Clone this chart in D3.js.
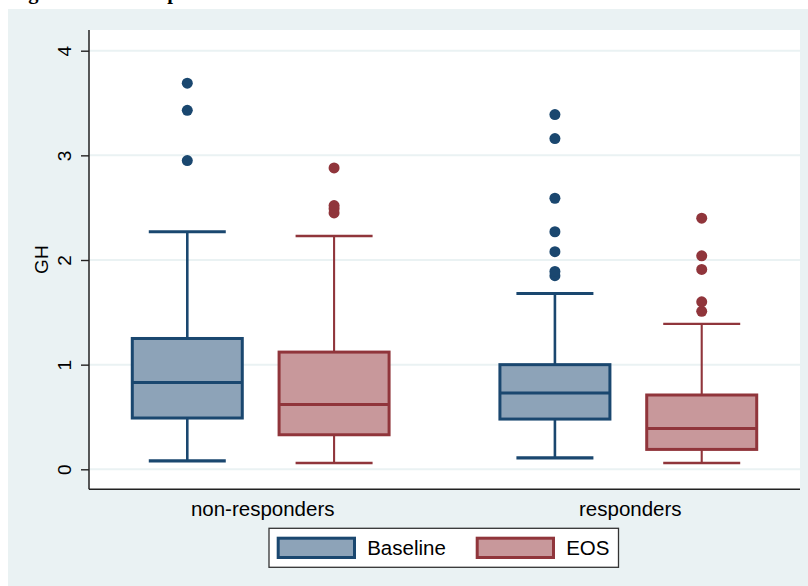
<!DOCTYPE html>
<html>
<head>
<meta charset="utf-8">
<script src="https://cdn.jsdelivr.net/npm/d3@7"></script>
<style>
  html, body { margin: 0; padding: 0; background: #ffffff; }
  svg { display: block; }
  text { font-family: "Liberation Sans", Arial, sans-serif; fill: #000; }
</style>
</head>
<body>
<svg id="chart" width="808" height="586"></svg>
<script>
// Group and series names
const groups = ["non-responders", "responders"];
const series = ["Baseline", "EOS"];

// Box statistics per group: [lower whisker, Q1, median, Q3, upper whisker]
const baselineStats = [
  [0.08, 0.49, 0.83, 1.25, 2.27],
  [0.11, 0.48, 0.73, 1.00, 1.68]
];
const eosStats = [
  [0.06, 0.33, 0.62, 1.12, 2.23],
  [0.06, 0.19, 0.39, 0.71, 1.39]
];

// Outside values per group
const baselineOutliers = [
  [2.95, 3.43, 3.69],
  [1.85, 1.89, 2.08, 2.27, 2.59, 3.16, 3.39]
];
const eosOutliers = [
  [2.45, 2.49, 2.52, 2.88],
  [1.51, 1.60, 1.91, 2.04, 2.40]
];

const yTicks = [0, 1, 2, 3, 4];

// Series styling
const lineColor = { Baseline: "#1a476f", EOS: "#90353b" };
const fillColor = { Baseline: "#8da3b8", EOS: "#c8989b" };
const whiskerWidth = { Baseline: 2.6, EOS: 2.1 };
const capWidth = { Baseline: 3.2, EOS: 2.4 };

const statsBySeries = { Baseline: baselineStats, EOS: eosStats };
const outliersBySeries = { Baseline: baselineOutliers, EOS: eosOutliers };

const svg = d3.select("#chart");
const W = 808, H = 586;

// Graph background
svg.append("rect").attr("x", 0).attr("y", 0).attr("width", W).attr("height", H).attr("fill", "#ffffff");
svg.append("rect").attr("x", 8).attr("y", 9).attr("width", W - 8).attr("height", H - 9).attr("fill", "#eaf2f3");

// Figure caption sitting above the graph
svg.append("text")
  .attr("x", 10).attr("y", -1)
  .style("font-family", "'Liberation Serif', 'Times New Roman', serif")
  .style("font-weight", "bold")
  .style("font-size", "20.5px")
  .text("Figure 2. GH box plots");

// Plot region
const plot = { left: 89, right: 800, top: 30, bottom: 489.3 };
svg.append("rect")
  .attr("x", plot.left).attr("y", plot.top)
  .attr("width", plot.right - plot.left).attr("height", plot.bottom - plot.top)
  .attr("fill", "#ffffff");

const y = d3.scaleLinear().domain([0, 4]).range([469.3, 50.7]);
const x = d3.scalePoint().domain(groups).range([plot.left, plot.right]).padding(0.467);
const xs = d3.scalePoint().domain(series).range([-73.4, 73.4]);
const boxW = 110, capW = 77;

// Grid lines
svg.append("g").selectAll("line").data(yTicks).join("line")
  .attr("x1", plot.left).attr("x2", plot.right)
  .attr("y1", d => y(d)).attr("y2", d => y(d))
  .attr("stroke", "#eaf2f3").attr("stroke-width", 2);

// Boxes
const boxData = [];
groups.forEach((g, gi) => {
  series.forEach(s => {
    const [lo, q1, med, q3, hi] = statsBySeries[s][gi];
    boxData.push({ g, s, lo, q1, med, q3, hi, out: outliersBySeries[s][gi] });
  });
});

const boxes = svg.append("g").selectAll("g").data(boxData).join("g")
  .attr("transform", d => `translate(${x(d.g) + xs(d.s)},0)`);

// whisker stems
boxes.append("line")
  .attr("x1", 0).attr("x2", 0)
  .attr("y1", d => y(d.hi)).attr("y2", d => y(d.q3))
  .attr("stroke", d => lineColor[d.s]).attr("stroke-width", d => whiskerWidth[d.s]);
boxes.append("line")
  .attr("x1", 0).attr("x2", 0)
  .attr("y1", d => y(d.q1)).attr("y2", d => y(d.lo))
  .attr("stroke", d => lineColor[d.s]).attr("stroke-width", d => whiskerWidth[d.s]);

// whisker caps
["hi", "lo"].forEach(k => {
  boxes.append("line")
    .attr("x1", -capW / 2).attr("x2", capW / 2)
    .attr("y1", d => y(d[k])).attr("y2", d => y(d[k]))
    .attr("stroke", d => lineColor[d.s]).attr("stroke-width", d => capWidth[d.s]);
});

// interquartile box
boxes.append("rect")
  .attr("x", -boxW / 2).attr("width", boxW)
  .attr("y", d => y(d.q3)).attr("height", d => y(d.q1) - y(d.q3))
  .attr("fill", d => fillColor[d.s])
  .attr("stroke", d => lineColor[d.s]).attr("stroke-width", 3);

// median
boxes.append("line")
  .attr("x1", -boxW / 2).attr("x2", boxW / 2)
  .attr("y1", d => y(d.med)).attr("y2", d => y(d.med))
  .attr("stroke", d => lineColor[d.s]).attr("stroke-width", 3);

// outside values
boxes.selectAll("circle").data(d => d.out.map(v => ({ v, s: d.s }))).join("circle")
  .attr("cx", 0).attr("cy", d => y(d.v)).attr("r", 5.5)
  .attr("fill", d => lineColor[d.s]);

// Y axis
const yAxis = svg.append("g")
  .attr("transform", `translate(${plot.left},0)`)
  .call(d3.axisLeft(y).tickValues(yTicks).tickSize(8).tickPadding(10).tickFormat(d3.format("d")));
yAxis.select(".domain").remove();
yAxis.selectAll(".tick line").attr("stroke", "#222").attr("stroke-width", 1.4);
yAxis.selectAll(".tick text")
  .attr("x", null).attr("dy", null)
  .attr("text-anchor", "middle")
  .attr("transform", "translate(-18,0) rotate(-90)")
  .attr("y", 0)
  .style("font-size", "19px")
  .style("font-family", "'Liberation Sans', Arial, sans-serif")
  .attr("fill", "#000");

// Axis lines
svg.append("line")
  .attr("x1", plot.left).attr("x2", plot.left)
  .attr("y1", plot.top).attr("y2", plot.bottom)
  .attr("stroke", "#222").attr("stroke-width", 1.5);
svg.append("line")
  .attr("x1", plot.left).attr("x2", plot.right)
  .attr("y1", plot.bottom).attr("y2", plot.bottom)
  .attr("stroke", "#222").attr("stroke-width", 1.5);

// Y axis title
svg.append("text")
  .attr("transform", `translate(48,${(plot.top + plot.bottom) / 2}) rotate(-90)`)
  .attr("text-anchor", "middle")
  .style("font-size", "19px")
  .text("GH");

// Category labels
svg.append("g").selectAll("text").data(groups).join("text")
  .attr("x", d => x(d) + 2).attr("y", 516)
  .attr("text-anchor", "middle")
  .style("font-size", "20.5px")
  .text(d => d);

// Legend
const legend = svg.append("g");
legend.append("rect")
  .attr("x", 269).attr("y", 528.3).attr("width", 349.5).attr("height", 39)
  .attr("fill", "#ffffff").attr("stroke", "#333").attr("stroke-width", 1.3);
const legendX = d3.scalePoint().domain(series).range([278.2, 477.2]);
const items = legend.selectAll("g.item").data(series).join("g").attr("class", "item")
  .attr("transform", d => `translate(${legendX(d)},538.2)`);
items.append("rect")
  .attr("width", 76.3).attr("height", 19.3)
  .attr("fill", d => fillColor[d]).attr("stroke", d => lineColor[d]).attr("stroke-width", 3);
items.append("text")
  .attr("x", 89).attr("y", 17)
  .style("font-size", "20.5px")
  .text(d => d);
</script>
</body>
</html>
